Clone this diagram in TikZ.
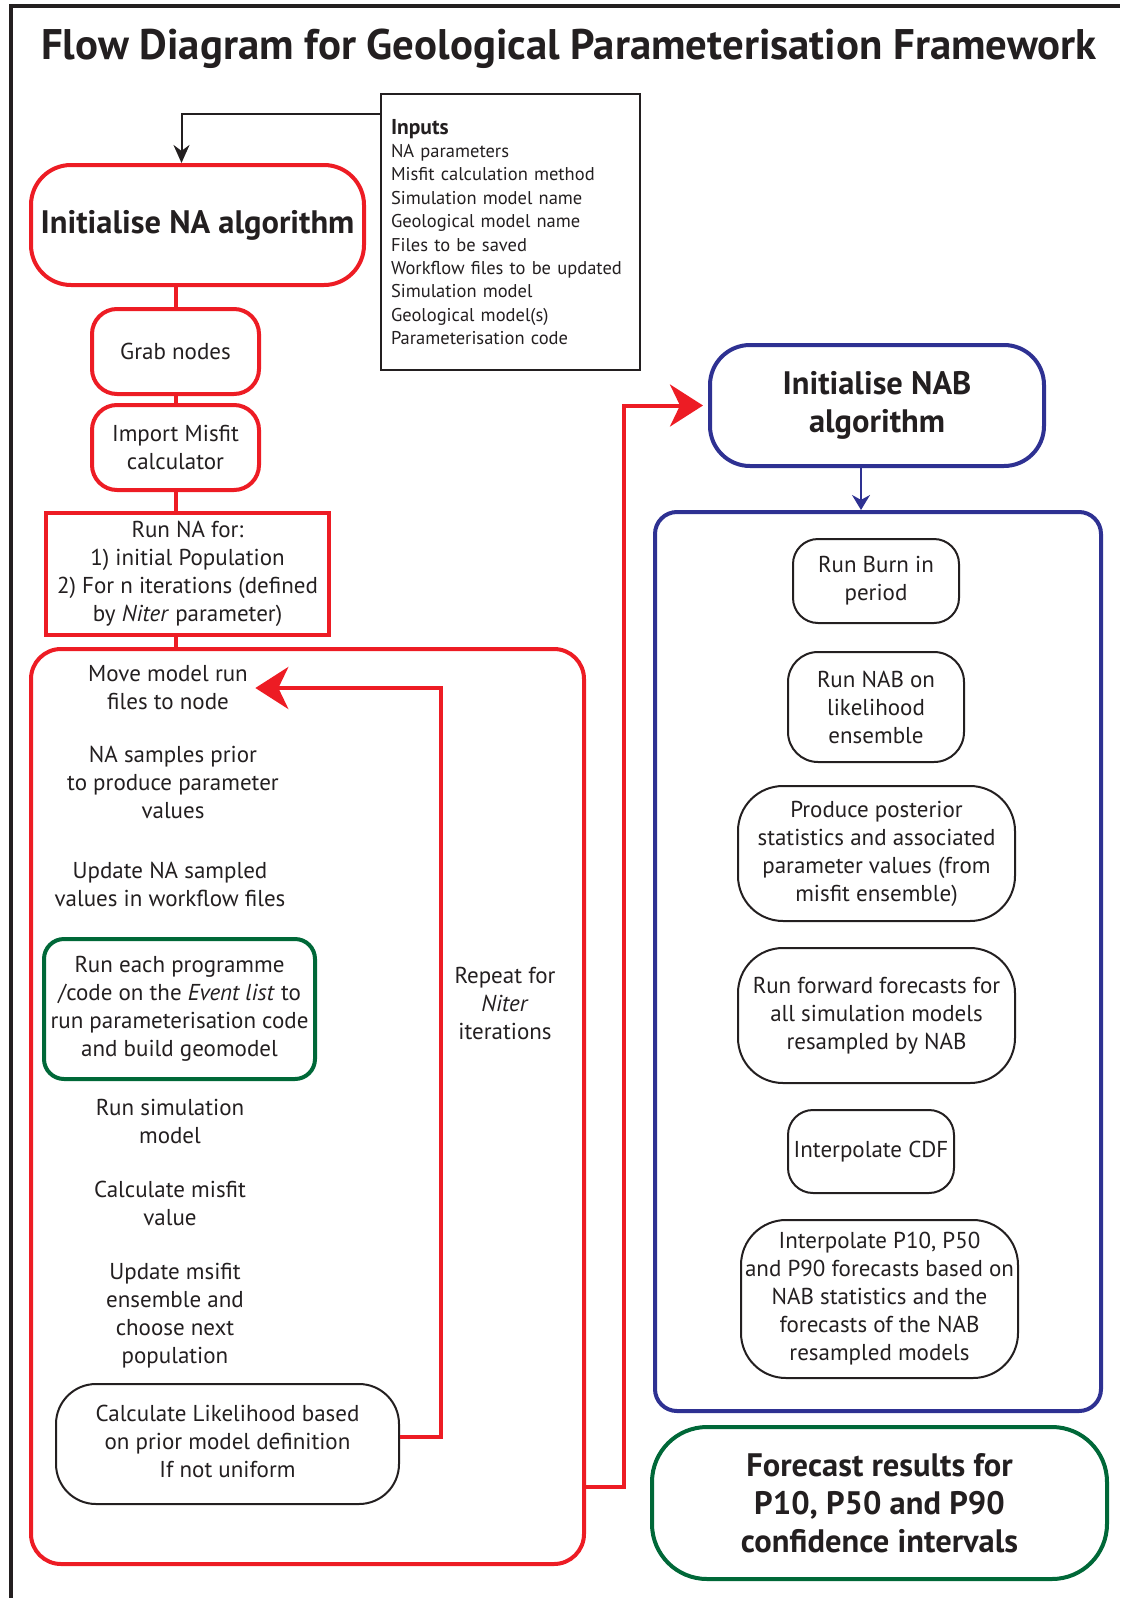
\documentclass[tikz,border=0pt]{standalone}
\usepackage{fontspec}
\setmainfont{PT Sans}
\usetikzlibrary{arrows.meta}
\definecolor{nared}{RGB}{237,28,36}
\definecolor{nabblue}{RGB}{46,49,146}
\definecolor{fcgreen}{RGB}{0,104,56}
\definecolor{ink}{RGB}{35,31,32}
\begin{document}
\begin{tikzpicture}[
    x=1pt, y=-1pt,
    txt/.style={align=center, text=ink, font=\fontsize{23}{28}\selectfont},
    head/.style={align=center, text=ink, font=\bfseries\fontsize{32.5}{38}\selectfont},
    redbox/.style={txt, draw=nared, line width=4pt},
    blkbox/.style={txt, draw=ink, line width=2pt},
    redline/.style={draw=nared, line width=4pt},
    redarrow/.style={redline, -{Stealth[length=33pt, width=42pt, inset=10pt]}},
]
\useasboundingbox (0,0) rectangle (1120,1598);
% Frame and title
\draw[ink, line width=4pt] (11,1598) -- (11,6) -- (1120,6);
\node[text=ink, font=\bfseries\fontsize{42.8}{50}\selectfont] (title) at (569,49)
  {Flow Diagram for Geological Parameterisation Framework};

% Inputs
\node[draw=ink, line width=2pt, minimum width=259, minimum height=276, inner sep=10pt,
  text width=239, align=left, text=ink, font=\fontsize{18.5}{23.4}\selectfont] (inputs) at (510.5,232)
  {{\bfseries\fontsize{21.5}{24}\selectfont Inputs}\\NA parameters\\Misfit calculation method\\
   Simulation model name\\Geological model name\\Files to be saved\\
   Workflow files to be updated\\Simulation model\\Geological model(s)\\Parameterisation code};

% NA side
\node[head, draw=nared, line width=4pt, rounded corners=40pt, minimum width=333, minimum height=120]
  (nainit) at (197.5,225) {Initialise NA algorithm};
\node[redbox, rounded corners=25pt, minimum width=167, minimum height=85] (grab) at (175.5,351.5) {Grab nodes};
\node[redbox, rounded corners=25pt, minimum width=167, minimum height=85] (import) at (175.5,447.5)
  {Import Misfit\\calculator};
\node[redbox, minimum width=283, minimum height=122] (runna) at (187.5,574)
  {Run NA for:\\1) initial Population\\2) For n iterations (defined\\by \textit{Niter} parameter)};
\node[redbox, rounded corners=30pt, minimum width=553, minimum height=915] (loop) at (307.5,1106.5) {};

\node[txt] (move) at (168,688) {Move model run\\files to node};
\node[txt] (sample) at (173,782) {NA samples prior\\to produce parameter\\values};
\node[txt] (update) at (170,884) {Update NA sampled\\values in workflow files};
\node[txt, draw=fcgreen, line width=4pt, rounded corners=20pt, minimum width=271, minimum height=140]
  (event) at (179.5,1009) {Run each programme\\/code on the \textit{Event list} to\\run parameterisation code\\and build geomodel};
\node[txt] (sim) at (170,1121.5) {Run simulation\\model};
\node[txt] (misfit) at (170,1203.5) {Calculate misfit\\value};
\node[txt] (ens) at (175,1316) {Update msifit\\ensemble and\\choose next\\population};
\node[blkbox, rounded corners=40pt, minimum width=343, minimum height=120] (lik) at (227.5,1444)
  {\raisebox{6pt}{\begin{tabular}{@{}c@{}}Calculate Likelihood based\\on prior model definition\\If not uniform\end{tabular}}};
\node[txt] (repeat) at (505,1003) {Repeat for\\\textit{Niter}\\iterations};

\draw[redline] (grab.north) -- (grab.north |- nainit.south);
\draw[redline] (grab.south) -- (import.north);
\draw[redline] (import.south) -- (import.south |- runna.north);
\draw[redline] (import.south |- runna.south) -- (import.south |- loop.north);

% Loop back
\coordinate (back) at (441,0);
\draw[redarrow] ([yshift=7pt]lik.east) -| (back |- move.east) -- ([xshift=4pt]move.east);

% NAB side
\node[head, draw=nabblue, line width=4pt, rounded corners=40pt, minimum width=334, minimum height=121]
  (nabinit) at (877,405.5) {Initialise NAB\\algorithm};
\node[draw=nabblue, line width=4pt, rounded corners=22pt, minimum width=446, minimum height=899]
  (nab) at (878,961.5) {};
\node[blkbox, rounded corners=25pt, minimum width=166, minimum height=84] (burn) at (876,581) {Run Burn in\\period};
\node[blkbox, rounded corners=30pt, minimum width=176, minimum height=110] (nabrun) at (876,707)
  {Run NAB on\\likelihood\\ensemble};
\node[blkbox, rounded corners=45pt, minimum width=277, minimum height=135] (post) at (876.5,853.5)
  {Produce posterior\\statistics and associated\\parameter values (from\\misfit ensemble)};
\node[blkbox, rounded corners=45pt, minimum width=277, minimum height=135] (fwd) at (876.5,1015.5)
  {Run forward forecasts for\\all simulation models\\resampled by NAB};
\node[blkbox, rounded corners=25pt, minimum width=166, minimum height=83] (cdf) at (871,1151.5) {Interpolate CDF};
\node[blkbox, rounded corners=45pt, minimum width=277, minimum height=158] (interp) at (879.5,1299)
  {Interpolate P10, P50\\and P90 forecasts based on\\NAB statistics and the\\forecasts of the NAB\\resampled models};
\node[head, draw=fcgreen, line width=4pt, rounded corners=55pt, minimum width=455, minimum height=152]
  (result) at (879.5,1503) {Forecast results for\\P10, P50 and P90\\confidence intervals};

% Connectors
\draw[ink, line width=2pt, -{Stealth[length=18pt, width=16pt]}]
  ([yshift=-21pt]inputs.north west) -| ([xshift=-16pt]nainit.north);
\coordinate (jump) at (624,1487);
\draw[redarrow, shorten >=5pt] (loop.east |- jump) -- (jump) |- (nabinit.west);
\draw[nabblue, line width=2pt, -{Stealth[length=15pt, width=18pt]}]
  ([xshift=-16pt]nabinit.south) -- ([xshift=-16pt]nabinit.south |- nab.north);
\end{tikzpicture}
\end{document}
